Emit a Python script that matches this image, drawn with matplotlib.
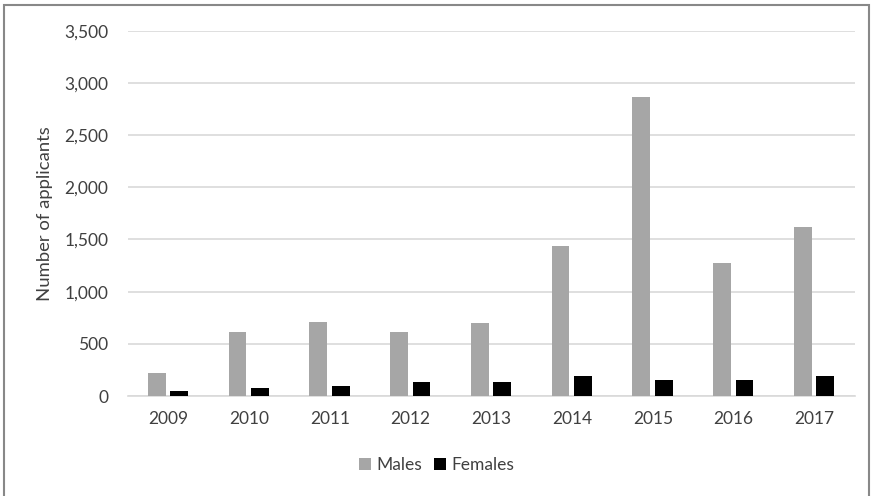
import matplotlib.pyplot as plt
import matplotlib.ticker as mticker
from matplotlib.patches import Rectangle
import numpy as np

plt.rcParams['font.family'] = ['Lato', 'DejaVu Sans']

years = ['2009', '2010', '2011', '2012', '2013', '2014', '2015', '2016', '2017']
males = [220, 610, 710, 610, 695, 1440, 2865, 1270, 1620]
females = [50, 75, 95, 135, 135, 195, 155, 155, 195]

TXT = '#404040'

fig = plt.figure(figsize=(8.73, 4.96), dpi=100)
ax = fig.add_axes([0.1466, 0.2016, 0.8325, 0.7365])

x = np.arange(len(years))
w = 0.22
ax.bar(x - 0.145, males, w, color='#a6a6a6', label='Males', zorder=3)
ax.bar(x + 0.135, females, w, color='black', label='Females', zorder=3)

ax.set_xlim(-0.5, len(years) - 0.5)
ax.set_ylim(0, 3500)
ax.set_yticks(range(0, 3501, 500))
ax.yaxis.set_major_formatter(mticker.FuncFormatter(lambda v, p: f'{int(v):,}'))
ax.set_xticks(x)
ax.set_xticklabels(years)
ax.grid(axis='y', color='#d9d9d9', linewidth=1.2, zorder=0)
for s in ['top', 'right', 'left']:
    ax.spines[s].set_visible(False)
ax.spines['bottom'].set_color('#d9d9d9')
ax.spines['bottom'].set_linewidth(1.2)
ax.tick_params(axis='both', length=0, labelsize=12.5, colors=TXT)
ax.tick_params(axis='y', pad=14)
ax.tick_params(axis='x', pad=11)

fig.text(0.052, 0.57, 'Number of applicants', rotation=90, ha='center', va='center',
         fontsize=13.3, color=TXT)

ax.legend(loc='center', bbox_to_anchor=(0.5, 0.0625), bbox_transform=fig.transFigure,
          ncol=2, frameon=False, fontsize=12.5, handlelength=0.7, handleheight=0.7,
          handletextpad=0.3, columnspacing=0.7, labelcolor=TXT)

fig.patches.append(Rectangle((0.005, -0.01), 0.99, 1.0, transform=fig.transFigure,
                             fill=False, edgecolor='#888888', linewidth=1.5))

fig.savefig('out.png', dpi=100)
